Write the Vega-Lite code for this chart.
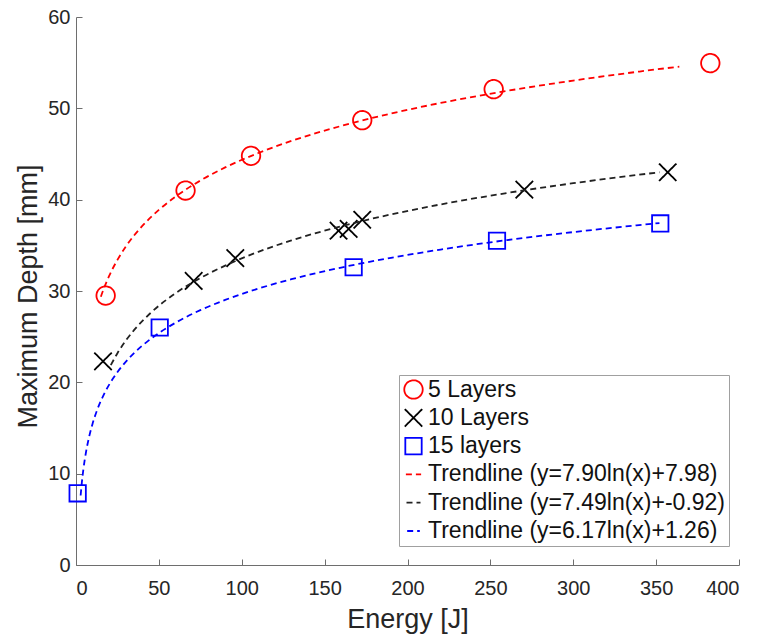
{
  "$schema": "https://vega.github.io/schema/vega-lite/v6.json",
  "autosize": {"type": "none"},
  "padding": {"left": 76, "top": 17, "right": 19, "bottom": 71},
  "width": 663,
  "height": 548,
  "background": "white",
  "config": {
    "font": "Liberation Sans",
    "view": {"stroke": null},
    "axis": {
      "domainColor": "#6e6e6e",
      "tickColor": "#6e6e6e",
      "domainWidth": 1,
      "tickWidth": 1,
      "grid": false,
      "labelFont": "Liberation Sans",
      "labelFontSize": 20,
      "labelColor": "#262626",
      "titleFont": "Liberation Sans",
      "titleFontSize": 27,
      "titleFontWeight": "normal",
      "titleColor": "#262626"
    },
    "legend": {
      "labelFont": "Liberation Sans",
      "labelFontSize": 23,
      "labelColor": "#111111",
      "labelLimit": 400
    }
  },
  "datasets": {
    "pts": [
      {"s": "5 Layers", "x": 17.9, "y": 29.5},
      {"s": "5 Layers", "x": 66.1, "y": 41.0},
      {"s": "5 Layers", "x": 105.6, "y": 44.8},
      {"s": "5 Layers", "x": 172.7, "y": 48.7},
      {"s": "5 Layers", "x": 252.0, "y": 52.1},
      {"s": "5 Layers", "x": 382.7, "y": 54.95},
      {"s": "10 Layers", "x": 16.3, "y": 22.3},
      {"s": "10 Layers", "x": 71.0, "y": 31.1},
      {"s": "10 Layers", "x": 96.1, "y": 33.6},
      {"s": "10 Layers", "x": 158.4, "y": 36.6},
      {"s": "10 Layers", "x": 164.5, "y": 36.8},
      {"s": "10 Layers", "x": 172.7, "y": 37.8},
      {"s": "10 Layers", "x": 270.5, "y": 41.1},
      {"s": "10 Layers", "x": 357.0, "y": 43.0},
      {"s": "15 layers", "x": 1.0, "y": 7.85},
      {"s": "15 layers", "x": 50.5, "y": 26.0},
      {"s": "15 layers", "x": 167.5, "y": 32.6},
      {"s": "15 layers", "x": 254.0, "y": 35.5},
      {"s": "15 layers", "x": 352.5, "y": 37.4}
    ],
    "trend": [
      {"s": "Trendline (y=7.90ln(x)+7.98)", "x": 15, "y": 29.37},
      {"s": "Trendline (y=7.90ln(x)+7.98)", "x": 16.5, "y": 30.13},
      {"s": "Trendline (y=7.90ln(x)+7.98)", "x": 20, "y": 31.65},
      {"s": "Trendline (y=7.90ln(x)+7.98)", "x": 25, "y": 33.41},
      {"s": "Trendline (y=7.90ln(x)+7.98)", "x": 30, "y": 34.85},
      {"s": "Trendline (y=7.90ln(x)+7.98)", "x": 40, "y": 37.12},
      {"s": "Trendline (y=7.90ln(x)+7.98)", "x": 50, "y": 38.88},
      {"s": "Trendline (y=7.90ln(x)+7.98)", "x": 60, "y": 40.33},
      {"s": "Trendline (y=7.90ln(x)+7.98)", "x": 75, "y": 42.09},
      {"s": "Trendline (y=7.90ln(x)+7.98)", "x": 90, "y": 43.53},
      {"s": "Trendline (y=7.90ln(x)+7.98)", "x": 110, "y": 45.11},
      {"s": "Trendline (y=7.90ln(x)+7.98)", "x": 130, "y": 46.43},
      {"s": "Trendline (y=7.90ln(x)+7.98)", "x": 160, "y": 48.07},
      {"s": "Trendline (y=7.90ln(x)+7.98)", "x": 190, "y": 49.43},
      {"s": "Trendline (y=7.90ln(x)+7.98)", "x": 220, "y": 50.59},
      {"s": "Trendline (y=7.90ln(x)+7.98)", "x": 260, "y": 51.91},
      {"s": "Trendline (y=7.90ln(x)+7.98)", "x": 300, "y": 53.04},
      {"s": "Trendline (y=7.90ln(x)+7.98)", "x": 340, "y": 54.03},
      {"s": "Trendline (y=7.90ln(x)+7.98)", "x": 364, "y": 54.57},
      {"s": "Trendline (y=7.49ln(x)+-0.92)", "x": 21, "y": 21.88},
      {"s": "Trendline (y=7.49ln(x)+-0.92)", "x": 25, "y": 23.19},
      {"s": "Trendline (y=7.49ln(x)+-0.92)", "x": 30, "y": 24.56},
      {"s": "Trendline (y=7.49ln(x)+-0.92)", "x": 35, "y": 25.71},
      {"s": "Trendline (y=7.49ln(x)+-0.92)", "x": 45, "y": 27.59},
      {"s": "Trendline (y=7.49ln(x)+-0.92)", "x": 60, "y": 29.75},
      {"s": "Trendline (y=7.49ln(x)+-0.92)", "x": 75, "y": 31.42},
      {"s": "Trendline (y=7.49ln(x)+-0.92)", "x": 90, "y": 32.78},
      {"s": "Trendline (y=7.49ln(x)+-0.92)", "x": 110, "y": 34.29},
      {"s": "Trendline (y=7.49ln(x)+-0.92)", "x": 130, "y": 35.54},
      {"s": "Trendline (y=7.49ln(x)+-0.92)", "x": 160, "y": 37.09},
      {"s": "Trendline (y=7.49ln(x)+-0.92)", "x": 190, "y": 38.38},
      {"s": "Trendline (y=7.49ln(x)+-0.92)", "x": 220, "y": 39.48},
      {"s": "Trendline (y=7.49ln(x)+-0.92)", "x": 260, "y": 40.73},
      {"s": "Trendline (y=7.49ln(x)+-0.92)", "x": 300, "y": 41.80},
      {"s": "Trendline (y=7.49ln(x)+-0.92)", "x": 352, "y": 43.00},
      {"s": "Trendline (y=6.17ln(x)+1.26)", "x": 2.8, "y": 7.61},
      {"s": "Trendline (y=6.17ln(x)+1.26)", "x": 3.5, "y": 8.99},
      {"s": "Trendline (y=6.17ln(x)+1.26)", "x": 4.5, "y": 10.54},
      {"s": "Trendline (y=6.17ln(x)+1.26)", "x": 6, "y": 12.32},
      {"s": "Trendline (y=6.17ln(x)+1.26)", "x": 8, "y": 14.09},
      {"s": "Trendline (y=6.17ln(x)+1.26)", "x": 10, "y": 15.47},
      {"s": "Trendline (y=6.17ln(x)+1.26)", "x": 13, "y": 17.09},
      {"s": "Trendline (y=6.17ln(x)+1.26)", "x": 17, "y": 18.74},
      {"s": "Trendline (y=6.17ln(x)+1.26)", "x": 22, "y": 20.33},
      {"s": "Trendline (y=6.17ln(x)+1.26)", "x": 28, "y": 21.82},
      {"s": "Trendline (y=6.17ln(x)+1.26)", "x": 35, "y": 23.20},
      {"s": "Trendline (y=6.17ln(x)+1.26)", "x": 45, "y": 24.75},
      {"s": "Trendline (y=6.17ln(x)+1.26)", "x": 60, "y": 26.52},
      {"s": "Trendline (y=6.17ln(x)+1.26)", "x": 75, "y": 27.90},
      {"s": "Trendline (y=6.17ln(x)+1.26)", "x": 90, "y": 29.02},
      {"s": "Trendline (y=6.17ln(x)+1.26)", "x": 110, "y": 30.26},
      {"s": "Trendline (y=6.17ln(x)+1.26)", "x": 130, "y": 31.29},
      {"s": "Trendline (y=6.17ln(x)+1.26)", "x": 160, "y": 32.57},
      {"s": "Trendline (y=6.17ln(x)+1.26)", "x": 190, "y": 33.63},
      {"s": "Trendline (y=6.17ln(x)+1.26)", "x": 220, "y": 34.54},
      {"s": "Trendline (y=6.17ln(x)+1.26)", "x": 260, "y": 35.57},
      {"s": "Trendline (y=6.17ln(x)+1.26)", "x": 300, "y": 36.45},
      {"s": "Trendline (y=6.17ln(x)+1.26)", "x": 352, "y": 37.44}
    ]
  },
  "encoding": {
    "x": {
      "field": "x", "type": "quantitative",
      "scale": {"domain": [0, 400], "nice": false, "zero": false},
      "axis": {
        "values": [0, 50, 100, 150, 200, 250, 300, 350, 400],
        "tickSize": -6,
        "labelPadding": 19,
        "title": "Energy [J]",
        "titleBaseline": "alphabetic",
        "titleY": 62
      }
    },
    "y": {
      "field": "y", "type": "quantitative",
      "scale": {"domain": [0, 60], "nice": false, "zero": false},
      "axis": {
        "values": [0, 10, 20, 30, 40, 50, 60],
        "tickSize": -6,
        "labelPadding": 12,
        "title": "Maximum Depth [mm]",
        "titleAngle": -90,
        "titleAlign": "center",
        "titleBaseline": "alphabetic",
        "titleX": -40,
        "titleY": 279
      }
    }
  },
  "layer": [
    {
      "data": {"name": "pts"},
      "mark": {"type": "point", "filled": false, "strokeWidth": 1.8, "opacity": 1},
      "encoding": {
        "color": {
          "field": "s", "type": "nominal",
          "scale": {
            "domain": ["5 Layers", "10 Layers", "15 layers", "Trendline (y=7.90ln(x)+7.98)", "Trendline (y=7.49ln(x)+-0.92)", "Trendline (y=6.17ln(x)+1.26)"],
            "range": ["#ff0000", "#000000", "#0000ff", "#ff0000", "#222222", "#0000ff"]
          },
          "legend": {
            "title": null,
            "orient": "none",
            "legendX": 323,
            "legendY": 358,
            "strokeColor": "#a0a0a0",
            "fillColor": "white",
            "padding": 3,
            "rowPadding": 2.3,
            "gridAlign": "all",
            "labelOffset": 3,
            "symbolStrokeWidth": 1.8
          }
        },
        "shape": {
          "field": "s", "type": "nominal",
          "scale": {
            "domain": ["5 Layers", "10 Layers", "15 layers", "Trendline (y=7.90ln(x)+7.98)", "Trendline (y=7.49ln(x)+-0.92)", "Trendline (y=6.17ln(x)+1.26)"],
            "range": ["circle", "M-1,-1L1,1M-1,1L1,-1", "square", "stroke", "stroke", "stroke"]
          }
        },
        "size": {
          "field": "s", "type": "nominal",
          "scale": {
            "domain": ["5 Layers", "10 Layers", "15 layers", "Trendline (y=7.90ln(x)+7.98)", "Trendline (y=7.49ln(x)+-0.92)", "Trendline (y=6.17ln(x)+1.26)"],
            "range": [340, 160, 225, 729, 729, 729]
          }
        },
        "strokeDash": {
          "field": "s", "type": "nominal",
          "scale": {
            "domain": ["5 Layers", "10 Layers", "15 layers", "Trendline (y=7.90ln(x)+7.98)", "Trendline (y=7.49ln(x)+-0.92)", "Trendline (y=6.17ln(x)+1.26)"],
            "range": [[1, 0], [1, 0], [1, 0], [6, 4], [6, 4], [6, 4]]
          }
        }
      }
    },
    {
      "data": {"name": "trend"},
      "mark": {"type": "line", "strokeWidth": 1.8, "interpolate": "monotone", "clip": true},
      "encoding": {
        "color": {
          "field": "s", "type": "nominal",
          "scale": {
            "domain": ["5 Layers", "10 Layers", "15 layers", "Trendline (y=7.90ln(x)+7.98)", "Trendline (y=7.49ln(x)+-0.92)", "Trendline (y=6.17ln(x)+1.26)"],
            "range": ["#ff0000", "#000000", "#0000ff", "#ff0000", "#222222", "#0000ff"]
          }
        },
        "strokeDash": {
          "field": "s", "type": "nominal",
          "scale": {
            "domain": ["5 Layers", "10 Layers", "15 layers", "Trendline (y=7.90ln(x)+7.98)", "Trendline (y=7.49ln(x)+-0.92)", "Trendline (y=6.17ln(x)+1.26)"],
            "range": [[1, 0], [1, 0], [1, 0], [6, 4], [6, 4], [6, 4]]
          }
        }
      }
    }
  ]
}
